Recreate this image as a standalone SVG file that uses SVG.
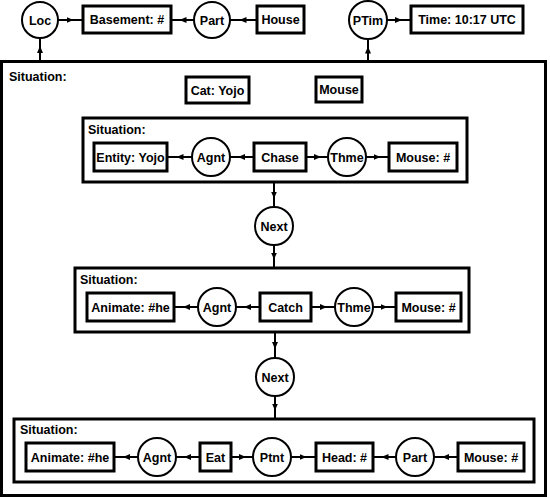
<svg xmlns="http://www.w3.org/2000/svg" width="550" height="498" viewBox="0 0 550 498">
<style>
rect{fill:#fff;stroke:#000;stroke-width:3}
circle{fill:#fff;stroke:#000;stroke-width:2}
.c path{fill:none;stroke:#000;stroke-width:2;marker-mid:url(#ah)}
text{font-family:"Liberation Sans",Arial,sans-serif;font-size:12.5px;font-weight:bold;fill:#000}
.m{text-anchor:middle}
</style>
<defs>
<marker id="ah" markerUnits="userSpaceOnUse" markerWidth="7" markerHeight="7" viewBox="0 0 7 7" refX="3.5" refY="3.5" orient="auto">
<path d="M0,0.5 L7,3.5 L0,6.5 Z" fill="#000"/>
</marker>
</defs>
<g id="outer"><rect x="1.5" y="61.5" width="544" height="434"/><text x="9" y="81">Situation:</text></g>
<g id="sit1"><rect x="83" y="118" width="384" height="64"/><text x="88" y="134">Situation:</text></g>
<g id="sit2"><rect x="75" y="268" width="394" height="64"/><text x="80" y="284">Situation:</text></g>
<g id="sit3"><rect x="14" y="419" width="520" height="63"/><text x="20" y="434">Situation:</text></g>
<g class="c" id="connectors">
<path d="M40,61 L40,49.5 L40,38"/>
<path d="M58,20 L70,20 L82,20"/>
<path d="M194,20 L183,20 L172,20"/>
<path d="M256,20 L243,20 L230,20"/>
<path d="M368,61 L368,50 L368,39"/>
<path d="M387,20 L398.5,20 L410,20"/>
<path d="M192,157 L180,157 L168,157"/>
<path d="M253,157 L241.5,157 L230,157"/>
<path d="M307,157 L317.5,157 L328,157"/>
<path d="M366,157 L377,157 L388,157"/>
<path d="M274,183 L274,195 L274,207"/>
<path d="M274,245 L274,256 L274,267"/>
<path d="M198,307 L186.5,307 L175,307"/>
<path d="M259,307 L247.5,307 L236,307"/>
<path d="M312,307 L323.5,307 L335,307"/>
<path d="M373,307 L384,307 L395,307"/>
<path d="M275,333 L275,345.5 L275,358"/>
<path d="M275,396 L275,407 L275,418"/>
<path d="M138,457 L126.5,457 L115,457"/>
<path d="M199,457 L187.5,457 L176,457"/>
<path d="M232,457 L242.5,457 L253,457"/>
<path d="M291,457 L303,457 L315,457"/>
<path d="M396,457 L385,457 L374,457"/>
<path d="M457,457 L445.5,457 L434,457"/>
</g>
<g id="loc"><circle cx="40" cy="20" r="18"/><text class="m" x="40" y="24.5">Loc</text></g>
<g id="basement"><rect x="83" y="6" width="88" height="27"/><text class="m" x="127" y="24">Basement: #</text></g>
<g id="part1"><circle cx="212" cy="20" r="18"/><text class="m" x="212" y="24.5">Part</text></g>
<g id="house"><rect x="257" y="6" width="47" height="27"/><text class="m" x="280.5" y="24">House</text></g>
<g id="ptim"><circle cx="368" cy="20" r="19"/><text class="m" x="368" y="24.5">PTim</text></g>
<g id="time"><rect x="411" y="6" width="112" height="27"/><text class="m" x="467" y="24">Time: 10:17 UTC</text></g>
<g id="cat"><rect x="186" y="77" width="63" height="26"/><text class="m" x="217.5" y="94.5">Cat: Yojo</text></g>
<g id="mouse0"><rect x="316" y="77" width="46" height="25"/><text class="m" x="339" y="94">Mouse</text></g>
<g id="entity"><rect x="94" y="143" width="73" height="28"/><text class="m" x="130.5" y="161.5">Entity: Yojo</text></g>
<g id="agnt1"><circle cx="211" cy="157" r="19"/><text class="m" x="211" y="161.5">Agnt</text></g>
<g id="chase"><rect x="254" y="143" width="52" height="28"/><text class="m" x="280" y="161.5">Chase</text></g>
<g id="thme1"><circle cx="347" cy="157" r="19"/><text class="m" x="347" y="161.5">Thme</text></g>
<g id="mouse1"><rect x="389" y="143" width="68" height="28"/><text class="m" x="423" y="161.5">Mouse: #</text></g>
<g id="next1"><circle cx="274" cy="226" r="19"/><text class="m" x="274" y="230.5">Next</text></g>
<g id="animate2"><rect x="87" y="293" width="87" height="28"/><text class="m" x="130.5" y="311.5">Animate: #he</text></g>
<g id="agnt2"><circle cx="217" cy="307" r="19"/><text class="m" x="217" y="311.5">Agnt</text></g>
<g id="catch"><rect x="260" y="293" width="51" height="28"/><text class="m" x="285.5" y="311.5">Catch</text></g>
<g id="thme2"><circle cx="354" cy="307" r="19"/><text class="m" x="354" y="311.5">Thme</text></g>
<g id="mouse2"><rect x="396" y="293" width="65" height="28"/><text class="m" x="428.5" y="311.5">Mouse: #</text></g>
<g id="next2"><circle cx="275" cy="377" r="19"/><text class="m" x="275" y="381.5">Next</text></g>
<g id="animate3"><rect x="26" y="443" width="88" height="28"/><text class="m" x="70" y="461.5">Animate: #he</text></g>
<g id="agnt3"><circle cx="157" cy="457" r="19"/><text class="m" x="157" y="461.5">Agnt</text></g>
<g id="eat"><rect x="200" y="443" width="31" height="28"/><text class="m" x="215.5" y="461.5">Eat</text></g>
<g id="ptnt"><circle cx="272" cy="457" r="19"/><text class="m" x="272" y="461.5">Ptnt</text></g>
<g id="head"><rect x="316" y="443" width="57" height="28"/><text class="m" x="344.5" y="461.5">Head: #</text></g>
<g id="part3"><circle cx="415" cy="457" r="19"/><text class="m" x="415" y="461.5">Part</text></g>
<g id="mouse3"><rect x="458" y="443" width="66" height="28"/><text class="m" x="491" y="461.5">Mouse: #</text></g>
</svg>
